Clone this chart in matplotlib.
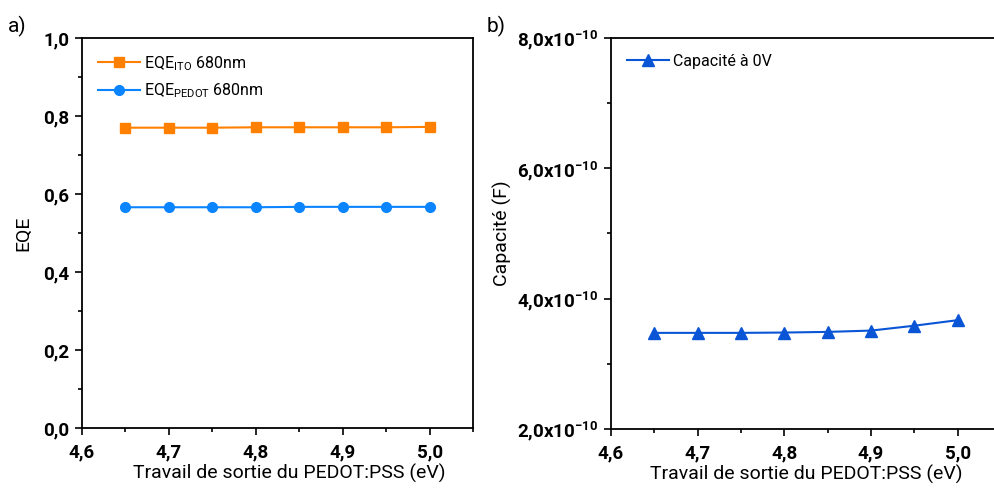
import matplotlib
matplotlib.use('Agg')
import matplotlib.pyplot as plt
from matplotlib.ticker import MultipleLocator, FixedLocator, FuncFormatter

plt.rcParams['font.family'] = ['Roboto', 'DejaVu Sans']
plt.rcParams['mathtext.fontset'] = 'custom'
plt.rcParams['mathtext.rm'] = 'Roboto'
plt.rcParams['mathtext.bf'] = 'Roboto:bold'

# data
work_function = [4.65, 4.70, 4.75, 4.80, 4.85, 4.90, 4.95, 5.00]
eqe_ito = [0.770, 0.770, 0.770, 0.771, 0.771, 0.771, 0.771, 0.772]
eqe_pedot = [0.566, 0.566, 0.566, 0.566, 0.567, 0.567, 0.567, 0.567]
capacite = [3.475e-10, 3.475e-10, 3.475e-10, 3.48e-10, 3.49e-10, 3.51e-10, 3.585e-10, 3.67e-10]
cap_ticks = [2e-10, 4e-10, 6e-10, 8e-10]
cap_minor = [3e-10, 5e-10, 7e-10]

orange = '#FF8000'
azure = '#0A84FF'
royal = '#0A55D6'

fig = plt.figure(figsize=(9.94, 4.9), dpi=100)
ax1 = fig.add_axes([0.0825, 0.1265, 0.3934, 0.796])
ax2 = fig.add_axes([0.6147, 0.1245, 0.3924, 0.798])

comma = FuncFormatter(lambda v, p: ('%.1f' % v).replace('.', ','))


def sci(v, p):
    m = v / 1e-10
    return r'%s$\mathbf{x10^{-10}}$' % ('%.1f' % m).replace('.', ',')


for ax in (ax1, ax2):
    ax.set_xlim(4.6, 5.05)
    ax.xaxis.set_major_locator(MultipleLocator(0.1))
    ax.xaxis.set_minor_locator(MultipleLocator(0.05))
    ax.xaxis.set_major_formatter(comma)
    ax.tick_params(which='major', direction='out', length=5, width=1.2,
                   labelsize=13.5, pad=4)
    ax.tick_params(axis='x', which='major', pad=6)
    ax.tick_params(which='minor', direction='out', length=3, width=1.2)
    for s in ax.spines.values():
        s.set_linewidth(1.3)
    ax.set_xlabel('Travail de sortie du PEDOT:PSS (eV)', fontsize=14, labelpad=2)

ax1.xaxis.label.set_x(0.53)

# panel a
ax1.plot(work_function, eqe_ito, marker='s', ms=6.5, lw=1.5, color=orange,
         label=r'EQE$_{\mathregular{ITO}}$ 680nm')
ax1.plot(work_function, eqe_pedot, marker='o', ms=7, lw=1.5, color=azure,
         label=r'EQE$_{\mathregular{PEDOT}}$ 680nm')
ax1.set_ylim(0, 1.0)
ax1.yaxis.set_major_locator(MultipleLocator(0.2))
ax1.yaxis.set_minor_locator(MultipleLocator(0.1))
ax1.yaxis.set_major_formatter(comma)
ax1.set_ylabel('EQE', fontsize=14, labelpad=8)
ax1.legend(loc='upper left', frameon=False, fontsize=11.5, handlelength=2.6,
           borderaxespad=0.6, labelspacing=0.55, handletextpad=0.3)

# panel b
ax2.plot(work_function, capacite, marker='^', ms=8, lw=1.5, color=royal,
         label='Capacité à 0V')
ax2.set_ylim(2e-10, 8e-10)
ax2.yaxis.set_major_locator(FixedLocator(cap_ticks))
ax2.yaxis.set_minor_locator(FixedLocator(cap_minor))
ax2.yaxis.set_major_formatter(FuncFormatter(sci))
ax2.set_ylabel('Capacité (F)', fontsize=14, labelpad=4)
ax2.legend(loc='upper left', frameon=False, fontsize=11.5, handlelength=2.6,
           borderaxespad=0.6, handletextpad=0.3)

for ax in (ax1, ax2):
    for lab in ax.get_xticklabels() + ax.get_yticklabels():
        lab.set_fontweight('bold')

fig.text(0.008, 0.935, 'a)', fontsize=15)
fig.text(0.49, 0.935, 'b)', fontsize=15)

fig.savefig('out.png', dpi=100)
